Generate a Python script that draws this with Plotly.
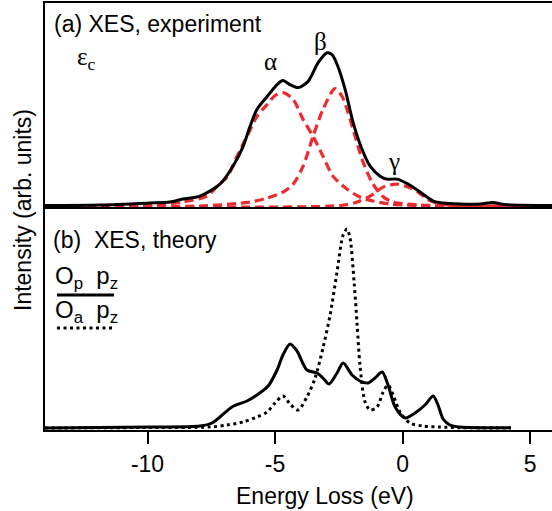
import plotly.graph_objects as go

# ---------------- data ----------------
# (a) experiment, energy loss (eV) and intensity (arb. units)
exp_e = [-14.02, -11.86, -9.90, -9.12, -8.61, -7.94, -7.16, -6.65, -6.25, -5.98, -5.71, -5.31,
         -4.92, -4.69, -4.41, -4.10, -3.71, -3.31, -2.96, -2.76, -2.53, -2.25, -1.94, -1.59,
         -1.27, -0.88, -0.61, -0.22, 0.22, 0.69, 1.20, 1.59, 2.25, 3.04, 3.55, 4.00, 5.86]
exp_i = [0.5, 1, 3, 4, 7, 10, 22, 40, 60, 80, 97, 110,
         122, 126, 122, 119, 125, 144, 154, 152, 140, 117, 84, 57,
         40, 30, 27, 27, 22, 14, 5, 3, 2, 2, 3.5, 1.5, 0.5]

# fitted components (red dashed)
alpha_e = [-14.02, -11.86, -9.90, -8.61, -7.67, -7.27, -6.88, -6.49, -6.10, -5.71, -5.31, -5.00,
           -4.69, -4.29, -3.90, -3.51, -3.12, -2.73, -2.18, -1.67, -1.16, -0.49, 0.69, 5.86]
alpha_i = [0, 0, 0.5, 4, 10, 20, 29, 50, 70, 90, 102, 111,
           114, 107, 87, 70, 50, 30, 17, 9, 5, 2, 0.5, 0]

beta_e = [-14.02, -7.94, -5.98, -5.31, -4.69, -4.29, -3.90, -3.51, -3.12, -2.65, -2.37, -2.14,
          -1.86, -1.59, -1.20, -0.80, -0.37, 0.69, 5.86]
beta_i = [0, 0, 4, 8, 14, 22, 40, 70, 97, 118, 110, 94,
          70, 47, 24, 10, 4, 1, 0]

gamma_e = [-14.02, -2.45, -1.78, -1.27, -0.76, -0.22, 0.22, 0.61, 0.96, 1.35, 1.75, 3.00, 5.86]
gamma_i = [0, 0.5, 4, 10, 19, 22, 19, 14, 7, 3, 1, 0, 0]

# (b) theory
op_e = [-14.02, -9.90, -7.94, -7.47, -7.16, -6.69, -6.10, -5.71, -5.27, -4.92, -4.69, -4.41,
        -4.14, -3.75, -3.35, -3.12, -2.88, -2.57, -2.33, -1.98, -1.67, -1.35, -1.08, -0.80,
        -0.57, -0.29, 0.10, 0.49, 0.88, 1.20, 1.39, 1.59, 1.86, 2.25, 4.25]
op_i = [0, 1, 2, 5, 11, 21, 27, 33, 42, 58, 73, 84,
        77, 58, 55, 50, 44, 55, 65, 53, 47, 45, 50, 56,
        43, 21, 10, 15, 23, 32, 23, 9, 3, 1, 0.3]

oa_e = [-14.02, -9.90, -7.55, -6.88, -6.25, -5.71, -5.31, -5.00, -4.69, -4.41, -4.10, -3.75,
        -3.43, -3.12, -2.84, -2.57, -2.33, -2.18, -2.06, -1.90, -1.78, -1.67, -1.47, -1.27,
        -1.00, -0.76, -0.57, -0.37, -0.10, 0.29, 0.80, 1.47, 2.25, 4.25]
oa_i = [0, 0.5, 1, 3, 6, 11, 16, 25, 32, 24, 18, 31,
        50, 80, 113, 156, 193, 199, 190, 146, 103, 63, 26, 18,
        21, 36, 43, 33, 16, 5, 2, 1, 0.3, 0]

x_ticks = [-10, -5, 0, 5]
x_tick_labels = ["-10", "-5", "0", "5"]

# ---------------- figure ----------------
RED = "#ee2a2f"
SANS = "Liberation Sans, Arial, Helvetica, sans-serif"
SERIF = "Liberation Serif, Times New Roman, serif"

fig = go.Figure()

for e, i in [(alpha_e, alpha_i), (beta_e, beta_i), (gamma_e, gamma_i)]:
    fig.add_trace(go.Scatter(x=e, y=i, xaxis="x2", yaxis="y2", mode="lines",
                             line=dict(color=RED, width=3.2, dash="9px,5px", shape="spline", smoothing=0.8),
                             showlegend=False, hoverinfo="skip"))
fig.add_trace(go.Scatter(x=exp_e, y=exp_i, xaxis="x2", yaxis="y2", mode="lines",
                         line=dict(color="black", width=3, shape="spline", smoothing=0.8),
                         showlegend=False))

fig.add_trace(go.Scatter(x=oa_e, y=oa_i, mode="lines",
                         line=dict(color="black", width=3, dash="3px,3.5px", shape="spline", smoothing=0.8),
                         showlegend=False))
fig.add_trace(go.Scatter(x=op_e, y=op_i, mode="lines",
                         line=dict(color="black", width=3, shape="spline", smoothing=0.8),
                         showlegend=False))

W, H = 552, 511
L, R, T, B = 45, 0, 3, 81
PW, PH = W - L - R, H - T - B
split = (430 - 207) / PH
XR = [-14.02, 5.86]


def px(xp):
    return (xp - L) / PW


def py(yp):
    return (430 - yp) / PH


fig.update_layout(
    width=W, height=H,
    margin=dict(l=L, r=R, t=T, b=B),
    paper_bgcolor="white", plot_bgcolor="white",
    font=dict(family=SANS, size=23, color="black"),
    xaxis=dict(domain=[0, 1], range=XR, anchor="y", showgrid=False, zeroline=False,
               showline=True, linewidth=2, linecolor="black",
               ticks="outside", ticklen=12, tickwidth=1.5, tickcolor="black",
               tickvals=x_ticks, ticktext=x_tick_labels, tickfont=dict(size=23)),
    yaxis=dict(domain=[0, split], range=[-2, 221], showgrid=False, zeroline=False,
               showline=True, linewidth=1.5, linecolor="black", showticklabels=False, ticks=""),
    xaxis2=dict(domain=[0, 1], range=XR, anchor="y2", showgrid=False, zeroline=False,
                showline=True, mirror=True, linewidth=1.5, linecolor="black",
                showticklabels=False, ticks=""),
    yaxis2=dict(domain=[split, 1], range=[-1, 204], showgrid=False, zeroline=False,
                showline=True, linewidth=1.5, linecolor="black", showticklabels=False, ticks=""),
)

ann = []
ann.append(dict(text="Energy Loss (eV)", x=px(325), y=py(496), xref="paper", yref="paper",
                showarrow=False, xanchor="center", yanchor="middle", font=dict(size=23)))
ann.append(dict(text="Intensity (arb. units)", x=-22 / PW, y=py(210), xref="paper", yref="paper",
                showarrow=False, xanchor="center", yanchor="middle", textangle=-90, font=dict(size=23)))
ann.append(dict(text="(a) XES, experiment", x=px(52), y=py(24), xref="paper", yref="paper",
                showarrow=False, xanchor="left", yanchor="middle", font=dict(size=23)))
ann.append(dict(text="(b)  XES, theory", x=px(51), y=py(240), xref="paper", yref="paper",
                showarrow=False, xanchor="left", yanchor="middle", font=dict(size=23)))
ann.append(dict(text="ε<sub>c</sub>", x=px(75), y=py(58), xref="paper", yref="paper",
                showarrow=False, xanchor="left", yanchor="middle", font=dict(family=SERIF, size=25)))
ann.append(dict(text="α", x=px(270), y=py(61), xref="paper", yref="paper",
                showarrow=False, xanchor="center", yanchor="middle", font=dict(family=SERIF, size=25)))
ann.append(dict(text="β", x=px(320), y=py(42), xref="paper", yref="paper",
                showarrow=False, xanchor="center", yanchor="middle", font=dict(family=SERIF, size=25)))
ann.append(dict(text="γ", x=px(394), y=py(161), xref="paper", yref="paper",
                showarrow=False, xanchor="center", yanchor="middle", font=dict(family=SERIF, size=25)))
ann.append(dict(text="O<sub>p</sub>  p<sub>z</sub>", x=px(53), y=py(277), xref="paper", yref="paper",
                showarrow=False, xanchor="left", yanchor="middle", font=dict(size=24)))
ann.append(dict(text="O<sub>a</sub>  p<sub>z</sub>", x=px(53), y=py(311), xref="paper", yref="paper",
                showarrow=False, xanchor="left", yanchor="middle", font=dict(size=24)))
fig.update_layout(annotations=ann)

fig.add_shape(type="line", xref="paper", yref="paper", x0=px(57), x1=px(114), y0=py(295), y1=py(295),
              line=dict(color="black", width=3))
fig.add_shape(type="line", xref="paper", yref="paper", x0=px(57), x1=px(112), y0=py(328), y1=py(328),
              line=dict(color="black", width=3, dash="3px,3.5px"))

fig.write_html("out.html")
